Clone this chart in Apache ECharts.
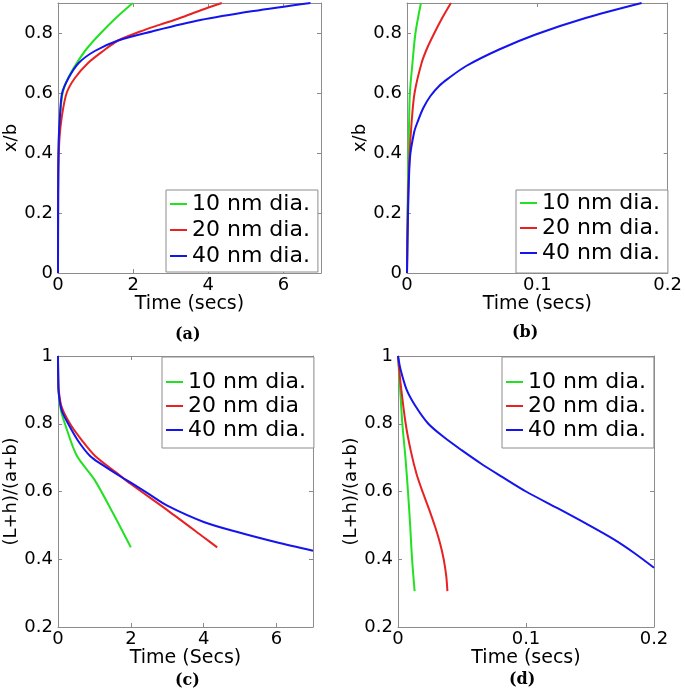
<!DOCTYPE html>
<html>
<head>
<meta charset="utf-8">
<script src="https://cdn.jsdelivr.net/npm/echarts@6/dist/echarts.min.js"></script>
<style>html,body{margin:0;padding:0;background:#fff;}#chart{width:685px;height:696px;}</style>
</head>
<body>
<div id="chart"></div>
<script>
// ---- data: [time (s), value] ----
// panel (a): x/b vs time
const aGreen = [[0,0],[0.002,0.2],[0.008,0.35],[0.025,0.45],[0.06,0.53],[0.124,0.6],[0.27,0.65],[0.5,0.7],[0.78,0.75],[1.14,0.8],[1.54,0.85],[1.99,0.9]];
const aRed = [[0,0],[0.003,0.2],[0.01,0.35],[0.04,0.45],[0.1,0.52],[0.23,0.6],[0.45,0.65],[0.8,0.7],[1.2,0.74],[1.6,0.775],[2.19,0.805],[2.7,0.827],[3.25,0.85],[3.8,0.876],[4.36,0.9]];
const aBlue = [[0,0],[0.002,0.2],[0.008,0.35],[0.02,0.45],[0.05,0.52],[0.11,0.6],[0.28,0.65],[0.55,0.7],[0.98,0.74],[1.6,0.775],[2.5,0.805],[3.79,0.843],[5.2,0.873],[6.72,0.9]];
// panel (b): x/b vs time
const bGreen = [[0,0],[0.0004,0.2],[0.001,0.38],[0.0016,0.5],[0.0022,0.6],[0.0042,0.7],[0.0065,0.8],[0.0107,0.9]];
const bRed = [[0,0],[0.0006,0.2],[0.0018,0.38],[0.0035,0.5],[0.0058,0.6],[0.0112,0.7],[0.0155,0.75],[0.021,0.8],[0.027,0.85],[0.0337,0.9]];
const bBlue = [[0,0],[0.0008,0.2],[0.0023,0.385],[0.0055,0.47],[0.0078,0.5],[0.0125,0.55],[0.018,0.59],[0.025,0.625],[0.0315,0.648],[0.0454,0.69],[0.0707,0.745],[0.0987,0.795],[0.137,0.85],[0.18,0.9]];
// panel (c): (L+h)/(a+b) vs time
const cGreen = [[0,1],[0.005,0.95],[0.02,0.89],[0.08,0.84],[0.19,0.8],[0.51,0.707],[1.0,0.635],[1.5,0.538],[2.0,0.435]];
const cRed = [[0,1],[0.005,0.95],[0.02,0.9],[0.1,0.85],[0.33,0.8],[0.65,0.752],[1.02,0.705],[1.61,0.655],[2.0,0.622],[3.0,0.545],[4.0,0.465],[4.37,0.435]];
const cBlue = [[0,1],[0.005,0.94],[0.02,0.89],[0.1,0.84],[0.28,0.8],[0.55,0.75],[0.88,0.705],[1.2,0.68],[1.75,0.642],[2.0,0.626],[2.5,0.592],[3.0,0.558],[4.0,0.51],[5.0,0.478],[6.0,0.45],[7.0,0.425]];
// panel (d): (L+h)/(a+b) vs time
const dGreen = [[0,1],[0.0012,0.93],[0.0034,0.8],[0.0058,0.7],[0.0078,0.6],[0.0095,0.5],[0.011,0.4],[0.013,0.306]];
const dRed = [[0,1],[0.002,0.92],[0.006,0.8],[0.01,0.72],[0.0146,0.65],[0.0196,0.595],[0.025,0.54],[0.0295,0.49],[0.033,0.445],[0.0357,0.4],[0.0377,0.35],[0.0386,0.306]];
const dBlue = [[0,1],[0.002,0.96],[0.0068,0.9],[0.014,0.85],[0.0237,0.8],[0.036,0.76],[0.0497,0.722],[0.065,0.682],[0.081,0.644],[0.1,0.6],[0.125,0.55],[0.147,0.505],[0.168,0.46],[0.184,0.42],[0.2,0.375]];

const namesStd = ['10 nm dia.', '20 nm dia.', '40 nm dia.'];
const namesC = ['10 nm dia.', '20 nm dia', '40 nm dia.'];
const xNames = ['Time (secs)', 'Time (secs)', 'Time (Secs)', 'Time (secs)'];
const yNames = ['x/b', 'x/b', '(L+h)/(a+b)', '(L+h)/(a+b)'];
const panelLabels = ['(a)', '(b)', '(c)', '(d)'];

const COLORS = ['#22e022', '#e82222', '#1414ee'];
const FRAME = '#8c8c8c';
const FONT = 'DejaVu Sans';

const panels = [
  {grid:{left:58, top:3, width:263, height:270}, x:[0,7,2], y:[0,0.9,0.2], data:[aGreen,aRed,aBlue], names:namesStd,
   legend:{left:166, top:190, padding:[3,8,5,4], itemGap:4, lh:22}, nameGapY:36, label:[188,337]},
  {grid:{left:407, top:3, width:263, height:270}, x:[0,0.2,0.1], y:[0,0.9,0.2], data:[bGreen,bRed,bBlue], names:namesStd,
   legend:{left:516, top:190, padding:[2,8,9,4], itemGap:3, lh:22}, nameGapY:38, label:[525,335]},
  {grid:{left:58, top:356, width:255, height:271}, x:[0,7,2], y:[0.2,1,0.2], data:[cGreen,cRed,cBlue], names:namesC,
   legend:{left:162, top:357, padding:[14,8,7,4], itemGap:2, lh:21}, nameGapY:36, label:[188,683]},
  {grid:{left:398, top:356, width:256, height:271}, x:[0,0.2,0.1], y:[0.2,1,0.2], data:[dGreen,dRed,dBlue], names:namesStd,
   legend:{left:502, top:357, padding:[14,8,7,4], itemGap:2, lh:21}, nameGapY:37, label:[522,682]}
];

const grid = [], xAxis = [], yAxis = [], series = [], legend = [], graphic = [];
panels.forEach((p, i) => {
  grid.push(Object.assign({containLabel:false}, p.grid));
  const tickStyle = {inside:true, length:4, lineStyle:{color:FRAME}};
  const lineStyle = {onZero:false, lineStyle:{color:FRAME, width:1}};
  xAxis.push({type:'value', gridIndex:i, position:'bottom', min:p.x[0], max:p.x[1], interval:p.x[2],
    axisLine:lineStyle, axisTick:tickStyle, splitLine:{show:false},
    axisLabel:{color:'#000', fontFamily:FONT, fontSize:18, margin:3, showMaxLabel: p.x[1] === 7 ? false : true, showMinLabel:true},
    name:xNames[i], nameLocation:'middle', nameGap:20, nameTextStyle:{color:'#000', fontFamily:FONT, fontSize:19}});
  xAxis.push({type:'value', gridIndex:i, position:'top', min:p.x[0], max:p.x[1], interval:p.x[2],
    axisLine:lineStyle, axisTick:tickStyle, splitLine:{show:false}, axisLabel:{show:false}});
  yAxis.push({type:'value', gridIndex:i, position:'left', min:p.y[0], max:p.y[1], interval:p.y[2],
    axisLine:lineStyle, axisTick:tickStyle, splitLine:{show:false},
    axisLabel:{color:'#000', fontFamily:FONT, fontSize:18, margin:5, showMaxLabel: p.y[1] === 1, showMinLabel:true},
    name:yNames[i], nameLocation:'middle', nameGap:p.nameGapY, nameTextStyle:{color:'#000', fontFamily:FONT, fontSize:18}});
  yAxis.push({type:'value', gridIndex:i, position:'right', min:p.y[0], max:p.y[1], interval:p.y[2],
    axisLine:lineStyle, axisTick:tickStyle, splitLine:{show:false}, axisLabel:{show:false}});
  p.data.forEach((d, k) => {
    series.push({type:'line', name:p.names[k], xAxisIndex:2*i, yAxisIndex:2*i, data:d,
      symbol:'none', showSymbol:false, smooth:0.3,
      color:COLORS[k], lineStyle:{color:COLORS[k], width:2}, itemStyle:{color:COLORS[k]}, z:3});
  });
  legend.push({orient:'vertical', left:p.legend.left, top:p.legend.top, data:p.names, icon:'rect',
    itemWidth:17, itemHeight:2, itemGap:p.legend.itemGap, padding:p.legend.padding,
    borderColor:FRAME, borderWidth:1, backgroundColor:'#fff', selectedMode:false,
    textStyle:{color:'#000', fontFamily:FONT, fontSize:22, lineHeight:p.legend.lh}, z:10});
  graphic.push({type:'text', left:p.label[0] - 13, top:p.label[1] - 10,
    style:{text:panelLabels[i], fill:'#000', font:'bold 16px "DejaVu Serif"'}});
});

const chart = echarts.init(document.getElementById('chart'), null, {renderer:'canvas'});
chart.setOption({animation:false, backgroundColor:'#fff', grid, xAxis, yAxis, series, legend, graphic});
</script>
</body>
</html>
